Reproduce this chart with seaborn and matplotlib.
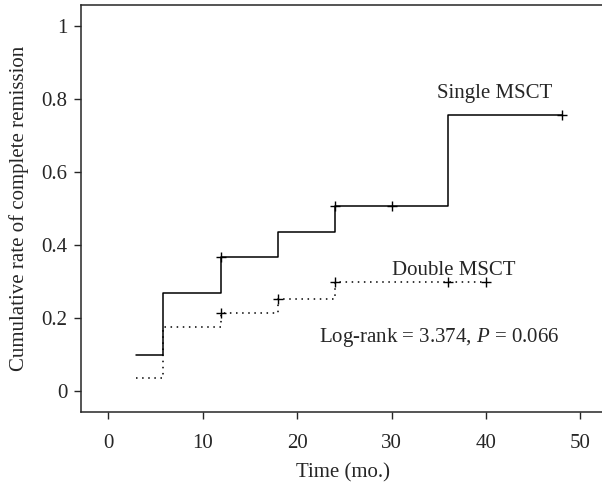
import numpy as np
import pandas as pd
import matplotlib
matplotlib.use("Agg")
import matplotlib.pyplot as plt
import seaborn as sns

# step curves (time in months, cumulative rate)
single_t = [3, 5.8, 12, 18, 24, 36, 48]
single_y = [0.10, 0.268, 0.367, 0.437, 0.507, 0.755, 0.755]
double_t = [3, 5.8, 12, 18, 24, 40]
double_y = [0.035, 0.177, 0.213, 0.252, 0.300, 0.300]

# censored observations
single_cens_t = [12, 24, 30, 48]
single_cens_y = [0.367, 0.507, 0.507, 0.755]
double_cens_t = [12, 18, 24, 36, 40]
double_cens_y = [0.213, 0.252, 0.300, 0.300, 0.300]

sns.set_style("ticks")
plt.rcParams["font.family"] = ["Liberation Serif", "DejaVu Serif"]
plt.rcParams["mathtext.fontset"] = "custom"
plt.rcParams["mathtext.it"] = "Liberation Serif:italic"
plt.rcParams["mathtext.rm"] = "Liberation Serif"

fig = plt.figure(figsize=(6.02, 4.86), dpi=100)
ax = fig.add_axes([0.1346, 0.152, 0.8704, 0.838])

single = pd.DataFrame({"t": single_t, "y": single_y})
double = pd.DataFrame({"t": double_t, "y": double_y})

sns.lineplot(data=single, x="t", y="y", drawstyle="steps-post", color="black",
             linewidth=1.1, ax=ax, estimator=None, sort=False)
sns.lineplot(data=double, x="t", y="y", drawstyle="steps-post", color="black",
             linewidth=1.1, linestyle=(0, (1, 3)), ax=ax, estimator=None, sort=False)
sns.scatterplot(x=single_cens_t, y=single_cens_y, marker="+", s=60, color="black",
                linewidth=1.0, ax=ax, zorder=3)
sns.scatterplot(x=double_cens_t, y=double_cens_y, marker="+", s=60, color="black",
                linewidth=1.0, ax=ax, zorder=3)

ax.text(40.9, 0.815, "Single MSCT", fontsize=15, ha="center", va="center")
ax.text(36.6, 0.33, "Double MSCT", fontsize=15, ha="center", va="center")
ax.text(35.1, 0.148, "Log-rank = 3.374, $\\it{P}$ = 0.066", fontsize=15,
        ha="center", va="center")

ax.set_xlim(-2.87, 52.6)
ax.set_ylim(-0.057, 1.057)
ax.set_xticks([0, 10, 20, 30, 40, 50])
ax.set_yticks([0, 0.2, 0.4, 0.6, 0.8, 1])
ax.set_yticklabels(["0", "0.2", "0.4", "0.6", "0.8", "1"])
ax.tick_params(labelsize=15, length=5, width=1, direction="out")
ax.tick_params(axis="x", pad=11)
ax.tick_params(axis="y", pad=5)
ax.set_xlabel("Time (mo.)", fontsize=15, labelpad=7)
ax.set_ylabel("Cumulative rate of complete remission", fontsize=15, labelpad=9)
for s in ax.spines.values():
    s.set_linewidth(1.1)

fig.savefig("out.png", dpi=100)
